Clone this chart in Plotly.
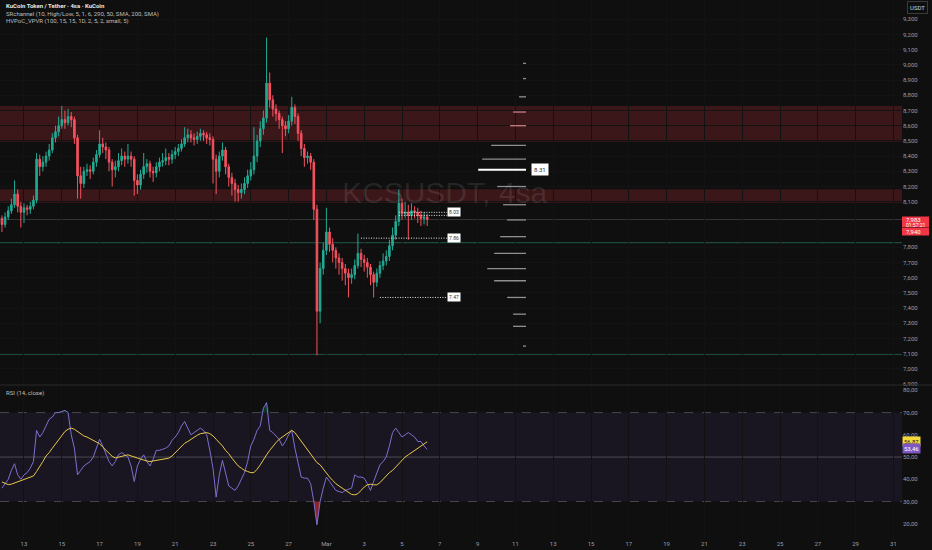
import pandas as pd
import plotly.graph_objects as go

# ---------------- data ----------------
candle_start = "2025-02-11 20:00"
first_open = 7.99
close = [7.95, 8.00, 8.04, 8.08, 8.15, 8.07, 8.03, 8.06, 8.05, 8.07,
         8.11, 8.38, 8.33, 8.36, 8.40, 8.44, 8.52, 8.56, 8.60, 8.64,
         8.62, 8.66, 8.64, 8.52, 8.27, 8.22, 8.30, 8.31, 8.30, 8.36,
         8.41, 8.48, 8.46, 8.44, 8.36, 8.31, 8.33, 8.37, 8.40, 8.38,
         8.40, 8.38, 8.24, 8.21, 8.28, 8.33, 8.35, 8.30, 8.29, 8.33,
         8.36, 8.37, 8.39, 8.38, 8.41, 8.43, 8.45, 8.48, 8.52, 8.54,
         8.52, 8.51, 8.53, 8.55, 8.54, 8.52, 8.51, 8.38, 8.30, 8.40,
         8.44, 8.33, 8.26, 8.22, 8.18, 8.16, 8.18, 8.22, 8.27, 8.31,
         8.40, 8.50, 8.58, 8.65, 8.88, 8.77, 8.71, 8.68, 8.64, 8.60,
         8.58, 8.63, 8.72, 8.66, 8.55, 8.45, 8.39, 8.40, 8.36, 8.05,
         7.38, 7.66, 7.78, 7.90, 7.82, 7.78, 7.73, 7.70, 7.66, 7.63,
         7.60, 7.62, 7.68, 7.76, 7.72, 7.70, 7.67, 7.62, 7.57, 7.63,
         7.68, 7.71, 7.74, 7.81, 7.88, 7.97, 8.09, 8.02, 8.03, 8.01,
         8.04, 8.03, 8.01, 7.99, 8.00, 7.983]
high = [8.01, 8.03, 8.07, 8.12, 8.24, 8.18, 8.10, 8.09, 8.08, 8.10,
        8.14, 8.42, 8.41, 8.40, 8.43, 8.48, 8.55, 8.60, 8.66, 8.73,
        8.70, 8.71, 8.69, 8.66, 8.54, 8.33, 8.33, 8.35, 8.34, 8.39,
        8.44, 8.57, 8.52, 8.49, 8.46, 8.38, 8.37, 8.42, 8.45, 8.43,
        8.48, 8.43, 8.40, 8.28, 8.31, 8.42, 8.38, 8.37, 8.33, 8.36,
        8.39, 8.42, 8.45, 8.42, 8.44, 8.46, 8.48, 8.51, 8.59, 8.58,
        8.57, 8.55, 8.56, 8.58, 8.57, 8.56, 8.55, 8.53, 8.41, 8.43,
        8.49, 8.46, 8.35, 8.29, 8.25, 8.21, 8.22, 8.26, 8.31, 8.36,
        8.59, 8.54, 8.63, 8.70, 9.18, 8.95, 8.80, 8.74, 8.70, 8.66,
        8.63, 8.67, 8.79, 8.74, 8.68, 8.57, 8.48, 8.43, 8.42, 8.38,
        8.08, 7.70, 7.83, 8.06, 7.93, 7.86, 7.80, 7.76, 7.73, 7.69,
        7.66, 7.66, 7.72, 7.89, 7.79, 7.75, 7.73, 7.69, 7.64, 7.66,
        7.71, 7.76, 7.78, 7.85, 7.93, 8.01, 8.18, 8.12, 8.10, 8.08,
        8.09, 8.07, 8.06, 8.04, 8.03, 8.02]
low = [7.90, 7.93, 7.98, 8.02, 8.06, 8.03, 7.93, 7.96, 8.01, 8.02,
       8.05, 8.09, 8.27, 8.30, 8.33, 8.37, 8.42, 8.49, 8.53, 8.58,
       8.58, 8.60, 8.59, 8.48, 8.12, 8.12, 8.19, 8.27, 8.25, 8.28,
       8.33, 8.39, 8.42, 8.38, 8.30, 8.20, 8.26, 8.30, 8.34, 8.33,
       8.35, 8.33, 8.14, 8.15, 8.18, 8.25, 8.29, 8.26, 8.23, 8.26,
       8.30, 8.33, 8.34, 8.34, 8.35, 8.38, 8.40, 8.43, 8.46, 8.49,
       8.49, 8.47, 8.48, 8.50, 8.50, 8.48, 8.47, 8.22, 8.15, 8.26,
       8.37, 8.28, 8.20, 8.14, 8.10, 8.10, 8.12, 8.15, 8.19, 8.24,
       8.28, 8.36, 8.46, 8.54, 8.62, 8.72, 8.66, 8.63, 8.58, 8.42,
       8.53, 8.55, 8.60, 8.61, 8.50, 8.40, 8.33, 8.35, 8.31, 7.98,
       7.09, 7.30, 7.62, 7.75, 7.77, 7.70, 7.66, 7.62, 7.58, 7.55,
       7.47, 7.56, 7.59, 7.66, 7.67, 7.64, 7.60, 7.55, 7.47, 7.54,
       7.60, 7.65, 7.68, 7.71, 7.78, 7.85, 7.94, 7.98, 7.99, 7.85,
       7.98, 7.99, 7.96, 7.94, 7.95, 7.94]

rsi = [36, 38, 40, 44, 47, 42, 40, 42, 43, 45,
       48, 62, 59, 61, 64, 67, 68, 70, 70, 70.5,
       71, 70, 60, 54, 42, 44, 46, 47, 48, 50,
       54, 58, 55, 51, 48, 46, 48, 51, 52, 51,
       50, 46, 39, 46, 49, 51, 48, 46, 49, 53,
       53, 53.5, 54, 55, 57.5, 59, 61, 64, 66, 63,
       60, 61, 62, 63, 62, 60, 53, 45, 32, 42,
       48.5, 42, 37, 36, 35, 37, 40, 43, 48, 55,
       58, 62, 64, 72, 74.5, 62, 61, 59.5, 58, 55,
       57, 60, 62, 54, 47, 41, 40.5, 40.5, 38, 30,
       19.5, 30, 36, 41, 39, 37, 35, 34.5, 34, 35,
       35.5, 36, 42, 41, 41, 40.5, 38, 35, 39, 43,
       46.5, 48, 50, 55, 61, 63, 61, 59, 60, 61,
       60, 59, 57, 57, 55, 53.46]
rsi_ma = [38.8, 38.3, 37.6, 37.8, 38.3, 38.9, 39.3, 39.8, 40.3, 40.8,
          41.5, 43.5, 45.5, 48, 50.5, 52, 54, 56, 58, 60,
          61.5, 62.5, 63, 62.5, 61.5, 60.5, 59.5, 59, 58.3, 57.6,
          56.8, 56, 54.5, 53, 51.5, 50.3, 49.6, 50, 50.5, 50.8,
          51, 50.5, 50, 49.4, 49, 48.5, 48.2, 48, 48.2, 48.5,
          48.7, 49, 49.3, 49.5, 50.5, 52, 53.5, 55, 56.2, 57,
          58, 59, 59.8, 60.5, 60.8, 61, 60.5, 59.5, 58, 56.5,
          55, 53, 51.5, 49.5, 47.5, 46, 45, 44, 43.5, 43,
          43, 44.5, 46.5, 49, 51, 53, 55, 56.5, 58, 59,
          60, 61, 62, 61, 59, 57, 55, 53.5, 51.5, 49.5,
          47.5, 46.5, 44.5, 42.5, 41, 39.5, 38, 37, 36, 35,
          34, 33.2, 33, 33.5, 35, 36.5, 37.5, 37.8, 37.5, 37.5,
          38.5, 40, 41.5, 43, 44, 45.5, 47, 48.5, 50, 51,
          52, 53, 54, 55, 56, 56.87]

sr_zones = [(8.495, 8.73), (8.093, 8.182)]
sr_lines = [7.83, 7.096]

vp_price = [9.01, 8.91, 8.79, 8.69, 8.60, 8.47, 8.38, 8.31, 8.20, 8.08,
            7.98, 7.87, 7.76, 7.66, 7.58, 7.47, 7.36, 7.28, 7.15]
vp_volume = [3, 3, 7, 13, 16, 35, 44, 48, 29, 23,
             19, 26, 32, 39, 32, 19, 13, 13, 3]
vp_end = "2025-03-11 13:30"
vp_max_days = 2.53

hv_levels = [8.03, 8.01, 7.86, 7.47]
hv_start_idx = [126, 126, 114, 120]
hv_labels = ["8.03", "", "7.86", "7.47"]
hv_end = "2025-03-07 09:00"

countdown = "01:57:21"
second_price = "7,940"

price_ticks = [6.9, 7.0, 7.1, 7.2, 7.3, 7.4, 7.5, 7.6, 7.7, 7.8,
               8.1, 8.2, 8.3, 8.4, 8.5, 8.6, 8.7, 8.8, 8.9, 9.0, 9.1, 9.2, 9.3]
rsi_ticks = [20, 30, 40, 50, 60, 70, 80]

tick_dates = ["2025-02-13", "2025-02-15", "2025-02-17", "2025-02-19", "2025-02-21",
              "2025-02-23", "2025-02-25", "2025-02-27", "2025-03-01", "2025-03-03",
              "2025-03-05", "2025-03-07", "2025-03-09", "2025-03-11", "2025-03-13",
              "2025-03-15", "2025-03-17", "2025-03-19", "2025-03-21", "2025-03-23",
              "2025-03-25", "2025-03-27", "2025-03-29", "2025-03-31"]
tick_labels = ["13", "15", "17", "19", "21", "23", "25", "27", "Mar", "3",
               "5", "7", "9", "11", "13", "15", "17", "19", "21", "23",
               "25", "27", "29", "31"]

# ---------------- figure ----------------
W, H = 932, 550
ML, MR, MT, MB = 0, 30, 0, 11
PW, PH = W - ML - MR, H - MT - MB
SPLIT = 385


def px_x(p):
    return p / PW


def px_y(p):
    return 1 - p / PH


BG = "#0f0f0f"
UP = "#22ab94"
DN = "#f7525f"
FONT = "Roboto"

times = pd.date_range(candle_start, periods=len(close), freq="4h")
opens = [first_open] + close[:-1]

fig = go.Figure()

fig.add_trace(go.Candlestick(
    x=times, open=opens, high=high, low=low, close=close,
    increasing=dict(line=dict(color=UP, width=1), fillcolor=UP),
    decreasing=dict(line=dict(color=DN, width=1), fillcolor=DN),
    whiskerwidth=0, showlegend=False, hoverinfo="skip",
    xaxis="x", yaxis="y"))

# volume profile rows
end_t = pd.Timestamp(vp_end)
max_vol = max(vp_volume)
poc_i = vp_volume.index(max_vol)
groups = {"gray": ([], []), "pink": ([], []), "poc": ([], [])}
for k, (p, v) in enumerate(zip(vp_price, vp_volume)):
    start_t = end_t - pd.Timedelta(days=vp_max_days * v / max_vol)
    in_zone = any(lo <= p <= hi for lo, hi in sr_zones)
    key = "poc" if k == poc_i else ("pink" if in_zone else "gray")
    xs, ys = groups[key]
    xs += [start_t, end_t, None]
    ys += [p, p, None]
styles = {"gray": ("#8f8f8f", 1.3), "pink": ("#c97d84", 1.3), "poc": ("#ffffff", 2)}
for key, (xs, ys) in groups.items():
    col, wd = styles[key]
    fig.add_trace(go.Scatter(x=xs, y=ys, mode="lines", line=dict(color=col, width=wd),
                             showlegend=False, hoverinfo="skip", xaxis="x", yaxis="y"))

# HV dotted levels
for lvl, si, lab in zip(hv_levels, hv_start_idx, hv_labels):
    fig.add_trace(go.Scatter(x=[times[si], pd.Timestamp(hv_end)], y=[lvl, lvl], mode="lines",
                             line=dict(color="#e8e8e8", width=1, dash="1px,1.5px"),
                             showlegend=False, hoverinfo="skip", xaxis="x", yaxis="y"))

# RSI fills
fig.add_trace(go.Scatter(x=times, y=[30] * len(rsi), mode="lines", line=dict(width=0),
                         showlegend=False, hoverinfo="skip", xaxis="x2", yaxis="y2"))
fig.add_trace(go.Scatter(x=times, y=[min(v, 30) for v in rsi], mode="lines", line=dict(width=0),
                         fill="tonexty", fillcolor="rgba(242,54,69,0.55)",
                         showlegend=False, hoverinfo="skip", xaxis="x2", yaxis="y2"))
fig.add_trace(go.Scatter(x=times, y=[70] * len(rsi), mode="lines", line=dict(width=0),
                         showlegend=False, hoverinfo="skip", xaxis="x2", yaxis="y2"))
fig.add_trace(go.Scatter(x=times, y=[max(v, 70) for v in rsi], mode="lines", line=dict(width=0),
                         fill="tonexty", fillcolor="rgba(8,153,129,0.25)",
                         showlegend=False, hoverinfo="skip", xaxis="x2", yaxis="y2"))

fig.add_trace(go.Scatter(x=times, y=rsi, mode="lines", line=dict(color="#7e6fd0", width=1),
                         showlegend=False, hoverinfo="skip", xaxis="x2", yaxis="y2"))
fig.add_trace(go.Scatter(x=times, y=rsi_ma, mode="lines", line=dict(color="#e8c84a", width=1),
                         showlegend=False, hoverinfo="skip", xaxis="x2", yaxis="y2"))

shapes = []
for lo, hi in sr_zones:
    shapes.append(dict(type="rect", xref="paper", yref="y", x0=0, x1=1, y0=lo, y1=hi,
                       fillcolor="rgba(160,42,52,0.31)", line=dict(width=0), layer="between"))
shapes.append(dict(type="line", xref="paper", yref="y", x0=0, x1=1, y0=close[-1], y1=close[-1],
                   line=dict(color="#353535", width=1), layer="between"))
for lv in sr_lines:
    shapes.append(dict(type="line", xref="paper", yref="y", x0=0, x1=1, y0=lv, y1=lv,
                       line=dict(color="#1f5a4c", width=1), layer="between"))
shapes.append(dict(type="rect", xref="paper", yref="y2", x0=0, x1=1, y0=30, y1=70,
                   fillcolor="rgba(126,87,194,0.10)", line=dict(width=0), layer="between"))
for lv, dash in [(70, "dash"), (30, "dash"), (50, "solid")]:
    shapes.append(dict(type="line", xref="paper", yref="y2", x0=0, x1=1, y0=lv, y1=lv,
                       line=dict(color="rgba(120,123,134,0.5)", width=1, dash=dash), layer="between"))
shapes.append(dict(type="line", xref="paper", yref="paper", x0=0, x1=W / PW,
                   y0=px_y(SPLIT), y1=px_y(SPLIT), line=dict(color="#2a2a2a", width=1)))
# red price-label boxes on the axis
for y0, y1 in [(216.5, 227.5), (228.0, 235.5)]:
    shapes.append(dict(type="rect", xref="paper", yref="paper", x0=1.0, x1=px_x(929),
                       y0=px_y(y1), y1=px_y(y0), fillcolor="#f23645", line=dict(width=0)))

ann = []
# legend texts
ann.append(dict(xref="paper", yref="paper", x=px_x(4), y=px_y(5.5), xanchor="left", yanchor="middle",
                text="<b>KuCoin Token / Tether · 4sa · KuCoin</b>", showarrow=False,
                font=dict(family=FONT, size=6, color="#e6e6e6")))
ann.append(dict(xref="paper", yref="paper", x=px_x(4), y=px_y(13.5), xanchor="left", yanchor="middle",
                text="SRchannel (10, High/Low, 5, 1, 6, 290, 50, SMA, 200, SMA)", showarrow=False,
                font=dict(family=FONT, size=6, color="#bdbdbd")))
ann.append(dict(xref="paper", yref="paper", x=px_x(4), y=px_y(20.5), xanchor="left", yanchor="middle",
                text="HVPoC_VPVR (100, 15, 15, 1D, 2, 5, 2, small, 5)", showarrow=False,
                font=dict(family=FONT, size=6, color="#bdbdbd")))
ann.append(dict(xref="paper", yref="paper", x=px_x(4), y=px_y(393), xanchor="left", yanchor="middle",
                text="RSI (14, close)", showarrow=False,
                font=dict(family=FONT, size=6, color="#bdbdbd")))
# watermark
ann.append(dict(xref="paper", yref="paper", x=px_x(444), y=px_y(192), xanchor="center", yanchor="middle",
                text="KCSUSDT, 4sa", showarrow=False,
                font=dict(family="Liberation Sans", size=30, color="rgba(255,255,255,0.09)")))
# HV labels
for lvl, lab in zip(hv_levels, hv_labels):
    if lab:
        ann.append(dict(xref="x", yref="y", x=pd.Timestamp(hv_end), y=lvl, xanchor="left", yanchor="middle",
                        text=lab, showarrow=False, bgcolor="#ffffff", borderpad=1,
                        font=dict(family=FONT, size=5, color="#333333")))
# POC label
ann.append(dict(xref="x", yref="y", x=end_t + pd.Timedelta(hours=6), y=vp_price[poc_i], xanchor="left",
                yanchor="middle", text=f"{vp_price[poc_i]:.2f}", showarrow=False, bgcolor="#ffffff",
                borderpad=2, font=dict(family=FONT, size=6, color="#333333")))
# axis labels on right
last_txt = f"{close[-1]:.3f}".replace(".", ",")
ann.append(dict(xref="paper", yref="paper", x=px_x(903.5), y=px_y(219.5), xanchor="left", yanchor="middle",
                text=last_txt, showarrow=False, font=dict(family=FONT, size=6, color="#ffffff")))
ann.append(dict(xref="paper", yref="paper", x=px_x(903.5), y=px_y(224.8), xanchor="left", yanchor="middle",
                text=countdown, showarrow=False, font=dict(family=FONT, size=5, color="#ffffff")))
ann.append(dict(xref="paper", yref="paper", x=px_x(903.5), y=px_y(231.8), xanchor="left", yanchor="middle",
                text=second_price, showarrow=False, font=dict(family=FONT, size=6, color="#ffffff")))
ann.append(dict(xref="paper", yref="y2", x=1.0, y=rsi_ma[-1], xanchor="left", yanchor="middle",
                text=f"{rsi_ma[-1]:.2f}".replace(".", ","), showarrow=False, bgcolor="#f5d93b",
                borderpad=1, font=dict(family=FONT, size=6, color="#222222")))
ann.append(dict(xref="paper", yref="y2", x=1.0, y=53.8, xanchor="left", yanchor="middle",
                text=f"{rsi[-1]:.2f}".replace(".", ","), showarrow=False, bgcolor="#7e57c2",
                borderpad=1, font=dict(family=FONT, size=6, color="#ffffff")))
ann.append(dict(xref="paper", yref="paper", x=px_x(917), y=px_y(7), xanchor="center", yanchor="middle",
                text="USDT", showarrow=False, bordercolor="#3a3a3a", borderwidth=1, borderpad=2,
                font=dict(family=FONT, size=6, color="#d0d0d0")))

x_range = ["2025-02-11 17:32", "2025-03-31 10:55"]
axis_font = dict(family=FONT, size=6, color="#9a9ea8")
rsi_top, rsi_bottom = 82.4, 50 - (PH - 457) / 2.225

fig.update_layout(
    width=W, height=H, margin=dict(l=ML, r=MR, t=MT, b=MB),
    paper_bgcolor=BG, plot_bgcolor=BG, separators=",.",
    showlegend=False, shapes=shapes, annotations=ann,
    xaxis=dict(type="date", domain=[0, 1], anchor="y", range=x_range, showticklabels=False,
               tickvals=tick_dates, showgrid=True, gridcolor="#121212", zeroline=False,
               rangeslider=dict(visible=False), showline=False, fixedrange=True),
    yaxis=dict(domain=[px_y(SPLIT), 1], anchor="x", range=[6.894, 9.427], side="right",
               tickvals=price_ticks, tickformat=".3f", tickfont=axis_font, showgrid=True,
               gridcolor="#131313", zeroline=False, ticks="", fixedrange=True),
    xaxis2=dict(type="date", domain=[0, 1], anchor="y2", matches="x", range=x_range,
                tickvals=tick_dates, ticktext=tick_labels, tickfont=axis_font, showgrid=True,
                gridcolor="#121212", zeroline=False, ticks="", fixedrange=True),
    yaxis2=dict(domain=[0, px_y(SPLIT)], anchor="x2", range=[rsi_bottom, rsi_top], side="right",
                tickvals=rsi_ticks, tickformat=".2f", tickfont=axis_font,
                showgrid=False, zeroline=False, ticks="", fixedrange=True),
)

fig.write_html(
    "out.html",
    config={"displayModeBar": False},
    post_script="document.body.style.margin='0px';document.body.style.padding='0px';"
                "document.body.style.background='#0f0f0f';document.body.style.overflow='hidden';",
)
